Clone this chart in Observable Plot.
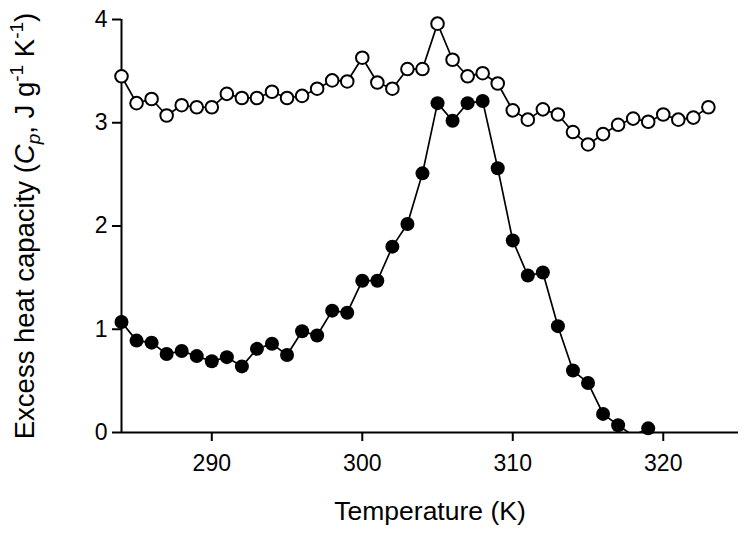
<!DOCTYPE html>
<html><head>
<meta charset="utf-8">
<script src="https://cdn.jsdelivr.net/npm/d3@7"></script>
<script src="https://cdn.jsdelivr.net/npm/@observablehq/plot@0.6"></script>
<style>body{margin:0;background:#fff}</style>
</head><body><div id="chart"></div>
<script>
const openTemps = [284,285,286,287,288,289,290,291,292,293,294,295,296,297,298,299,300,301,302,303,304,305,306,307,308,309,310,311,312,313,314,315,316,317,318,319,320,321,322,323];
const openValues = [3.45,3.19,3.23,3.07,3.17,3.15,3.15,3.28,3.24,3.24,3.30,3.24,3.26,3.33,3.41,3.40,3.63,3.39,3.33,3.52,3.52,3.96,3.61,3.45,3.48,3.38,3.12,3.03,3.13,3.08,2.91,2.79,2.89,2.98,3.04,3.01,3.08,3.03,3.05,3.15];
const filledTemps = [284,285,286,287,288,289,290,291,292,293,294,295,296,297,298,299,300,301,302,303,304,305,306,307,308,309,310,311,312,313,314,315,316,317,318,319];
const filledValues = [1.07,0.89,0.87,0.76,0.79,0.74,0.69,0.73,0.64,0.81,0.86,0.75,0.98,0.94,1.18,1.16,1.47,1.47,1.80,2.02,2.51,3.19,3.02,3.19,3.21,2.56,1.86,1.52,1.55,1.03,0.60,0.48,0.18,0.07,-0.03,0.04];
const xTicks = [290,300,310,320];
const yTicks = [0,1,2,3,4];

const openData = openTemps.map((t,i)=>({t, v: openValues[i]}));
const filledData = filledTemps.map((t,i)=>({t, v: filledValues[i]}));

const chart = Plot.plot({
  width: 746, height: 552,
  marginLeft: 121, marginTop: 19, marginBottom: 120, marginRight: 8,
  style: {fontFamily: "'Liberation Sans', Arial, sans-serif", background: "#fff", color: "#000"},
  x: {domain: [284, 325]},
  y: {domain: [0, 4]},
  marks: [
    Plot.axisY({ticks: yTicks, tickFormat: () => "", tickSize: 9, strokeWidth: 2, label: null}),
    Plot.axisX({ticks: xTicks, tickFormat: () => "", tickSize: 9, strokeWidth: 2, label: null}),
    Plot.text(yTicks, {x: 284, y: d => d, text: d => String(d), dx: -14, textAnchor: "end", fontSize: 23, fill: "black"}),
    Plot.text(xTicks, {x: d => d, y: 0, text: d => String(d), dy: 31, fontSize: 23, fill: "black"}),
    Plot.ruleX([284], {y1: 0, y2: 4, strokeWidth: 2}),
    Plot.ruleY([0], {strokeWidth: 2}),
    Plot.line(filledData, {x: "t", y: "v", stroke: "black", strokeWidth: 1.7, clip: true}),
    Plot.dot(filledData.filter(d => d.v >= 0), {x: "t", y: "v", r: 7, fill: "black", stroke: "none"}),
    Plot.line(openData, {x: "t", y: "v", stroke: "black", strokeWidth: 1.7}),
    Plot.dot(openData, {x: "t", y: "v", r: 6.3, fill: "white", stroke: "black", strokeWidth: 2})
  ]
});
document.getElementById("chart").appendChild(chart);

const svg = d3.select(chart);
svg.append("text")
  .attr("x", 430).attr("y", 520)
  .attr("text-anchor", "middle")
  .style("font-size", "26.5px")
  .attr("fill", "black")
  .text("Temperature (K)");

const yl = svg.append("text")
  .attr("transform", "translate(34,226) rotate(-90)")
  .attr("text-anchor", "middle")
  .style("font-size", "27.5px")
  .attr("fill", "black");
yl.append("tspan").text("Excess heat capacity (");
yl.append("tspan").style("font-style", "italic").text("C");
yl.append("tspan").style("font-style", "italic").style("font-size", "19px").attr("dy", 6).text("p");
yl.append("tspan").attr("dy", -6).text(", J g");
yl.append("tspan").style("font-size", "19px").attr("dy", -11).text("-1");
yl.append("tspan").attr("dy", 11).text(" K");
yl.append("tspan").style("font-size", "19px").attr("dy", -11).text("-1");
yl.append("tspan").attr("dy", 11).text(")");
</script>
</body></html>
